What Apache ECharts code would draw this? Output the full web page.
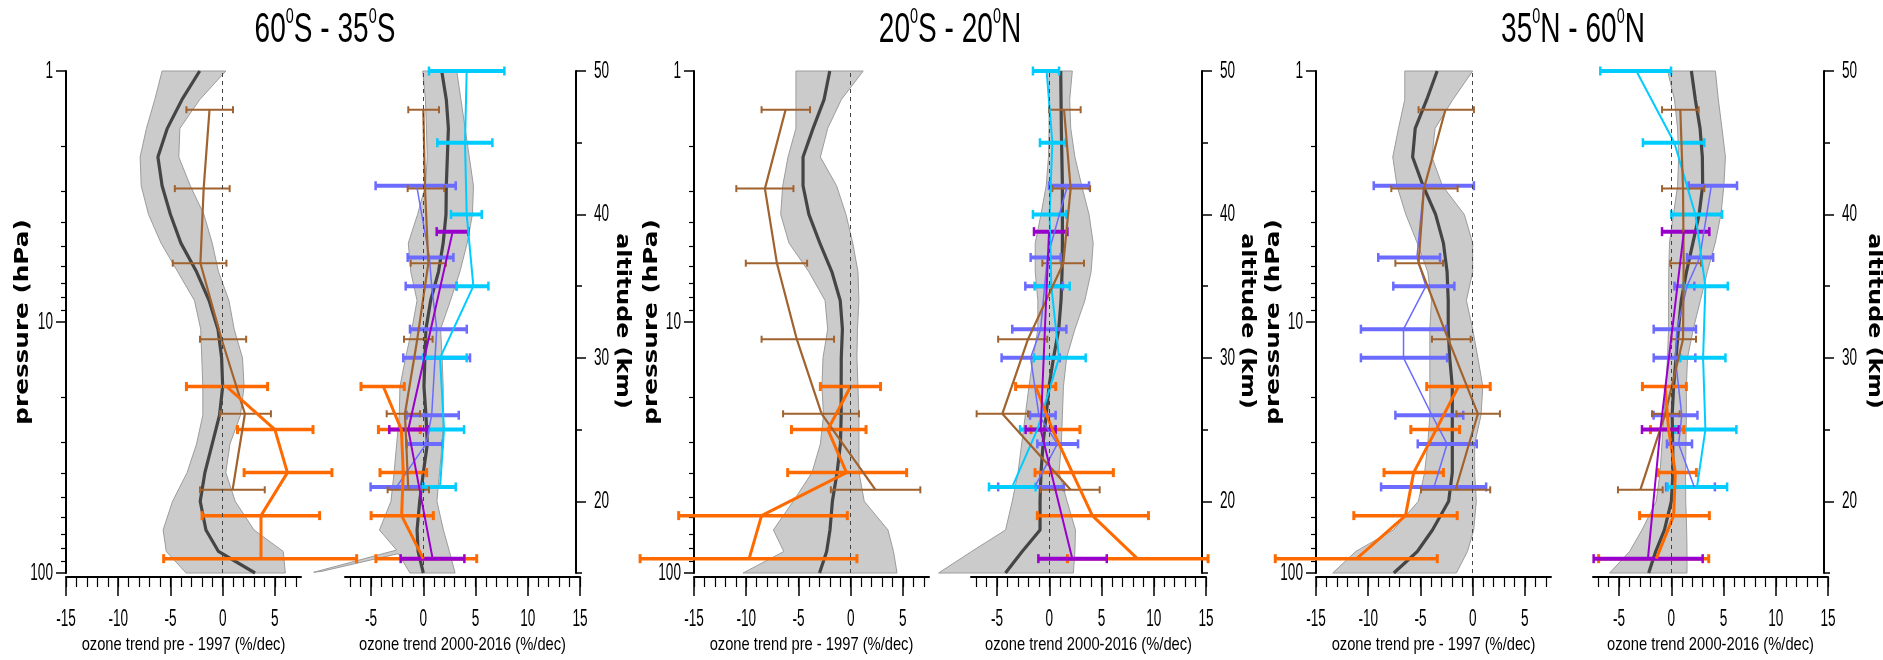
<!DOCTYPE html>
<html><head><meta charset="utf-8">
<script src="https://cdn.jsdelivr.net/npm/echarts@6/dist/echarts.min.js"></script>
<style>html,body{margin:0;padding:0;background:#fff}#c{width:1883px;height:660px}</style>
</head><body><div id="c"></div>
<script>
// ---------------- DATA ----------------
// altitude levels (km) for the model range band / mean
const bandAlt = [50,48,46,44,42,40,38,36,34,32,30,28,26,24,22,20,18,16.5,15];
// 60S-35S, pre-1997
const p1PreLo   = [-5.8,-6.5,-7.3,-7.9,-7.8,-7.1,-5.9,-4.3,-2.7,-2.1,-2.0,-1.9,-1.9,-2.5,-3.4,-4.8,-5.7,-5.4,-3.5];
const p1PreMean = [-2.2,-3.9,-5.3,-6.2,-5.8,-5.0,-4.0,-2.5,-1.3,-0.45,-0.1,0.0,-0.3,-1.0,-1.7,-2.15,-1.6,-0.4,3.1];
const p1PreHi   = [0.3,-2.2,-4.1,-4.2,-3.1,-1.8,-1.0,-0.4,0.6,1.1,1.9,2.05,1.7,0.7,0.3,1.2,3.0,5.8,6.0];
// 60S-35S, 2000-2016 (low edge given as [trend, altitude] vertices: it has a thin spike at the bottom)
const p1PostLoEdge = [[-0.06,50],[0.2,48],[0.3,46],[0.38,44],[0.2,42],[-0.55,40],[-1.44,38],[-1.2,36],[-0.6,34],[-1.1,32],[-1.7,30],[-2.24,28],[-2.3,26],[-2.55,24],[-2.8,22],[-3.1,20],[-4.2,18],[-2.56,16.6],[-10.5,15.05],[-9.7,15.12],[-2.4,16.35],[-1.28,15]];
const p1PostMean = [1.76,2.2,2.4,2.3,2.2,2.17,1.9,1.45,0.7,0.25,0.15,0.06,0.25,0.38,0.0,-0.35,-0.6,-0.5,0.0];
const p1PostHi   = [3.2,3.6,4.0,4.4,4.8,4.7,4.2,3.5,2.6,1.65,1.8,1.9,1.92,1.8,1.55,1.3,1.92,2.5,3.04];
// 20S-20N, pre-1997
const p2PreLo   = [-5.24,-5.24,-5.24,-6.0,-6.5,-6.7,-5.9,-4.0,-2.45,-2.2,-2.65,-2.75,-2.6,-2.9,-3.7,-5.5,-7.4,-6.4,-10.3];
const p2PreMean = [-2.0,-2.55,-3.6,-4.56,-4.56,-4.0,-2.95,-1.8,-1.0,-0.79,-0.9,-0.91,-0.91,-0.98,-1.3,-1.75,-1.98,-2.3,-2.98];
const p2PreHi   = [1.2,-0.9,-2.2,-2.9,-1.35,-0.45,0.2,0.7,0.79,0.65,0.6,0.7,0.79,0.79,0.8,1.3,3.57,4.1,4.44];
// 20S-20N, 2000-2016
const p2PostLo   = [-0.03,-0.03,-0.03,-0.08,-0.3,-0.8,-1.35,-1.35,-1.1,-1.1,-1.55,-1.95,-2.3,-2.65,-3.0,-3.55,-4.19,-7.45,-10.6];
const p2PostMean = [1.09,1.12,1.15,1.2,1.25,1.25,1.25,1.22,1.12,0.9,0.4,-0.03,-0.3,-0.6,-0.8,-0.89,-0.89,-2.6,-4.2];
const p2PostHi   = [2.2,1.95,2.05,2.45,3.1,3.8,4.2,4.0,3.4,2.45,1.65,1.35,1.25,1.15,0.93,1.7,2.5,2.45,2.3];
// 35N-60N, pre-1997
const p3PreLo   = [-6.5,-6.5,-7.1,-7.65,-7.25,-6.4,-5.3,-4.3,-3.95,-4.1,-4.1,-4.1,-4.1,-4.3,-4.6,-5.2,-7.6,-11.2,-13.4];
const p3PreMean = [-3.4,-4.4,-5.5,-5.75,-4.75,-3.55,-2.8,-2.45,-2.34,-2.34,-2.2,-1.95,-1.95,-1.95,-1.95,-2.3,-3.85,-5.3,-7.55];
const p3PreHi   = [0.0,-1.9,-3.6,-3.9,-2.9,-0.8,0.0,0.0,-0.6,0.0,0.5,0.97,0.8,0.19,0.19,0.35,0.1,-0.5,-1.56];
// 35N-60N, 2000-2016
const p3PostLo   = [-0.35,0.3,0.6,0.7,0.6,0.2,-0.18,-0.25,-0.26,-0.26,-0.37,-0.53,-0.7,-0.9,-1.08,-1.45,-2.81,-4.0,-5.91];
const p3PostMean = [1.92,2.3,2.75,2.97,3.0,2.66,2.06,1.45,0.95,0.68,0.45,0.22,0.08,0.13,0.16,0.0,-0.66,-1.5,-2.17];
const p3PostHi   = [4.22,4.5,4.85,5.18,5.03,4.75,4.2,3.45,2.78,2.1,1.55,1.44,1.44,1.4,1.36,1.38,1.47,1.5,1.5];

// observation levels (km)
const brownAlt  = [47.3, 41.8, 36.6, 31.3, 26.1, 20.8];
const orangeAlt = [28, 25, 22, 19, 16];
const blueAlt   = [42, 37, 35, 32, 30, 26, 24, 21];
const cyanAlt   = [50, 45, 40, 35, 30, 25, 21];
const purpleAlt = [38.8, 25, 16];

// [trend, lower, upper] (%/dec)
const p1PreBrown  = [[-1.26,-3.47,0.99],[-1.82,-4.58,0.67],[-2.13,-4.78,0.36],[-0.1,-2.17,2.25],[2.13,-0.24,4.62],[0.95,-2.17,4.03]];
const p1PreOrange = [[0.39,-3.47,4.3],[5.0,1.42,8.65],[6.2,2.05,10.46],[3.67,-1.97,9.28],[3.67,-5.65,12.83]];
const p1PostBrown  = [[0.0,-1.44,1.5],[0.16,-1.5,2.0],[0.48,-1.21,2.17],[-0.58,-1.85,0.89],[-1.76,-3.51,-0.32],[-1.44,-3.42,0.54]];
const p1PostBlue   = [[-0.64,-4.57,3.1],[0.58,-1.5,2.88],[0.8,-1.69,3.19],[1.28,-1.28,4.16],[1.12,-1.92,4.47],[0.8,-1.6,3.39],[0.26,-1.6,1.85],[-2.56,-5.05,0.0]];
const p1PostCyan   = [[4.15,0.54,7.76],[3.99,1.34,6.61],[4.15,2.65,5.59],[4.79,3.19,6.23],[1.6,0.0,4.15],[1.98,0.48,3.9],[1.6,0.0,3.1]];
const p1PostPurple = [[2.81,1.28,4.31],[-1.44,-3.26,0.42],[0.89,-2.17,3.93]];
const p1PostOrange = [[-3.83,-5.97,-1.82],[-2.1,-4.3,-0.3],[-1.92,-4.15,0.32],[-2.08,-5.0,0.96],[0.0,-4.54,5.11]];

const p2PreBrown  = [[-6.23,-8.53,-3.89],[-8.21,-10.95,-5.48],[-7.06,-10.04,-4.17],[-5.16,-8.53,-1.59],[-2.78,-6.47,0.79],[2.38,-1.9,6.67]];
const p2PreOrange = [[0.0,-2.9,2.86],[-2.18,-5.67,1.47],[-0.4,-6.03,5.36],[-8.53,-16.47,-0.32],[-9.72,-20.16,0.6]];
const p2PostBrown  = [[1.41,-0.03,3.0],[2.04,0.29,3.9],[1.34,-0.67,3.32],[-2.04,-4.9,-0.2],[-4.5,-6.96,-2.04],[2.04,-0.83,4.82]];
const p2PostBlue   = [[1.73,-0.03,3.8],[-0.19,-1.79,1.09],[-0.45,-2.3,1.3],[-0.83,-3.55,1.63],[-1.79,-4.57,1.0],[-1.0,-1.85,0.6],[0.77,-1.15,2.75],[-1.4,-4.9,1.4]];
const p2PostCyan   = [[-0.26,-1.57,0.93],[0.29,-0.9,1.57],[0.03,-1.57,1.63],[0.19,-1.41,1.95],[0.93,-1.47,3.48],[-1.15,-2.8,0.5],[-3.55,-5.78,-1.31]];
const p2PostPurple = [[-0.03,-1.47,1.73],[-0.83,-2.27,0.61],[2.2,-1.05,5.5]];
const p2PostOrange = [[-1.31,-3.23,0.61],[0.3,-1.76,2.93],[2.2,-1.37,6.13],[4.12,-1.15,9.49],[8.43,1.73,15.2]];

const p3PreBrown  = [[-2.61,-5.18,0.12],[-4.67,-7.79,-1.44],[-5.18,-7.4,-2.84],[-2.34,-3.9,-0.19],[0.5,-1.56,2.61],[-1.64,-4.95,1.68]];
const p3PreBlue   = [[-4.67,-9.47,0.12],[-5.34,-9.04,-3.12],[-4.48,-7.6,-1.75],[-6.62,-10.7,-2.53],[-6.62,-10.7,-2.45],[-3.9,-7.4,-0.9],[-2.45,-5.26,0.39],[-3.7,-8.77,1.29]];
const p3PreOrange = [[-1.36,-4.4,1.68],[-3.5,-5.92,-1.25],[-5.65,-8.49,-2.8],[-6.43,-11.38,-1.48],[-11.1,-18.9,-3.39]];
const p3PostBrown  = [[0.86,-0.89,2.62],[1.12,-0.89,3.16],[1.18,-0.1,2.84],[1.12,0.0,2.36],[-0.58,-1.85,0.8],[-2.97,-5.11,-0.83]];
const p3PostBlue   = [[3.83,1.66,6.29],[2.72,1.5,4.0],[1.5,0.3,2.2],[0.54,-1.69,2.36],[0.38,-1.69,2.3],[1.0,-1.7,2.5],[0.7,-0.42,1.98],[2.2,-0.5,4.17]];
const p3PostCyan   = [[-3.35,-6.8,-0.03],[0.29,-2.72,3.16],[2.3,0.0,4.86],[3.26,1.18,5.4],[3.04,0.86,5.18],[3.26,0.38,6.23],[2.46,-0.35,5.34]];
const p3PostPurple = [[1.2,-0.89,3.64],[-1.05,-2.81,0.7],[-2.24,-7.44,3.0]];
const p3PostOrange = [[-0.6,-2.77,1.44],[-0.26,-2.0,1.2],[0.38,-1.28,2.4],[0.22,-3.04,3.64],[-1.44,-6.96,3.58]];

// tick values / labels
const preMajorTicks  = [-15,-10,-5,0,5];
const postMajorTicks = [-5,0,5,10,15];
const pressureMajor = [1,10,100];
const pressureMinor = [2,3,4,5,6,7,8,9,20,30,40,50,60,70,80,90];
const altMajor = [20,30,40,50];
const altMinor = [15,25,35,45];
const panelTitles = ['60{s|0}S - 35{s|0}S', '20{s|0}S - 20{s|0}N', '35{s|0}N - 60{s|0}N'];
const preAxisName  = 'ozone trend pre - 1997 (%/dec)';
const postAxisName = 'ozone trend 2000-2016 (%/dec)';

// ---------------- LAYOUT / STYLE ----------------
const FS = "'Liberation Sans', Arial, sans-serif";
const TOP = 71, H = 502, W = 235;
const gridLefts = [66, 345, 694, 971, 1316, 1593];
const panelCenters = [325, 950, 1573];
const presLabelX = [23, 652, 1274];
const altLabelX = [622, 1247, 1874];
const LBL = {size: 17, sx: 0.8, sy: 1.45};
const NAME = {size: 16, sx: 0.92, sy: 1.2};
const STY = {
  blue:   {color:'#6B6BFF', alts: blueAlt,   lw:1.5, bw:4,   cw:2.5, cap:4.5},
  cyan:   {color:'#00CCFF', alts: cyanAlt,   lw:2,   bw:4,   cw:2.5, cap:4.5},
  brown:  {color:'#A0632F', alts: brownAlt,  lw:2.2, bw:2,   cw:2,   cap:3.5},
  orange: {color:'#FF6A00', alts: orangeAlt, lw:3,   bw:3.5, cw:3,   cap:4.5},
  purple: {color:'#9900CC', alts: purpleAlt, lw:2,   bw:4,   cw:2.5, cap:4.5}
};
const ORDER = ['blue','cyan','brown','orange','purple'];

function edge(xs) { return xs.map((x, i) => [x, bandAlt[i]]); }
const subplots = [
  {pre:true,  lo:edge(p1PreLo),  mean:p1PreMean,  hi:p1PreHi,  sets:{brown:p1PreBrown, orange:p1PreOrange}},
  {pre:false, lo:p1PostLoEdge,   mean:p1PostMean, hi:p1PostHi, sets:{blue:p1PostBlue, cyan:p1PostCyan, brown:p1PostBrown, orange:p1PostOrange, purple:p1PostPurple}},
  {pre:true,  lo:edge(p2PreLo),  mean:p2PreMean,  hi:p2PreHi,  sets:{brown:p2PreBrown, orange:p2PreOrange}},
  {pre:false, lo:edge(p2PostLo), mean:p2PostMean, hi:p2PostHi, sets:{blue:p2PostBlue, cyan:p2PostCyan, brown:p2PostBrown, orange:p2PostOrange, purple:p2PostPurple}},
  {pre:true,  lo:edge(p3PreLo),  mean:p3PreMean,  hi:p3PreHi,  sets:{blue:p3PreBlue, brown:p3PreBrown, orange:p3PreOrange}},
  {pre:false, lo:edge(p3PostLo), mean:p3PostMean, hi:p3PostHi, sets:{blue:p3PostBlue, cyan:p3PostCyan, brown:p3PostBrown, orange:p3PostOrange, purple:p3PostPurple}}
];

function range(a, b) { const r = []; for (let v = a; v <= b; v++) r.push(v); return r; }

const grids = [], xAxes = [], yAxes = [], series = [];
const black = '#000';

// text placed through the axis scale (tall, narrow lettering like the original)
function textSeries(xi, yi, pts, texts, dx, dy, align, st) {
  return {type:'custom', xAxisIndex: xi, yAxisIndex: yi, clip:false, silent:true, z:5,
    data: pts,
    renderItem: (params, api) => {
      const c = api.coord([api.value(0), api.value(1)]);
      return {type:'text', x: c[0] + dx, y: c[1] + dy, scaleX: st.sx, scaleY: st.sy,
        style:{text: texts[params.dataIndex], fill: black, fontFamily: FS, fontSize: st.size,
          align: align, verticalAlign:'middle'}};
    }};
}

subplots.forEach((sp, gi) => {
  grids.push({left: gridLefts[gi], top: TOP, width: W, height: H});
  const xmin = sp.pre ? -15 : -7.5, xmax = sp.pre ? 7.5 : 15;
  const majors = sp.pre ? preMajorTicks : postMajorTicks;
  const minors = sp.pre ? range(-15, 7) : range(-7, 15);
  const xi = xAxes.length;
  xAxes.push({gridIndex: gi, type:'value', min:xmin, max:xmax, position:'bottom', offset:4,
    axisLine:{show:true, onZero:false, lineStyle:{color:black, width:2}},
    axisTick:{show:true, customValues: majors, length:19, lineStyle:{color:black, width:1.5}},
    axisLabel:{show:false}, splitLine:{show:false}});
  xAxes.push({gridIndex: gi, type:'value', min:xmin, max:xmax, position:'bottom', offset:4,
    axisLine:{show:false, onZero:false},
    axisTick:{show:true, customValues: minors, length:10, lineStyle:{color:black, width:1.2}},
    axisLabel:{show:false}, splitLine:{show:false}});
  let dataY;
  if (sp.pre) {
    const pi = yAxes.length;
    yAxes.push({gridIndex: gi, type:'log', logBase:10, min:1, max:100, inverse:true, position:'left',
      axisLine:{show:true, onZero:false, lineStyle:{color:black, width:2}},
      axisTick:{show:true, customValues: pressureMajor, length:10, lineStyle:{color:black, width:1.5}},
      axisLabel:{show:false}, splitLine:{show:false}});
    yAxes.push({gridIndex: gi, type:'log', logBase:10, min:1, max:100, inverse:true, position:'left',
      axisLine:{show:false, onZero:false},
      axisTick:{show:true, customValues: pressureMinor, length:5, lineStyle:{color:black, width:1.2}},
      axisLabel:{show:false}, splitLine:{show:false}});
    dataY = yAxes.length;
    yAxes.push({gridIndex: gi, type:'value', min:15, max:50, show:false, splitLine:{show:false},
      axisLine:{onZero:false}});
    series.push(textSeries(xi, pi, pressureMajor.map(p => [xmin, p]), pressureMajor.map(String), -13, 0, 'right', LBL));
  } else {
    dataY = yAxes.length;
    yAxes.push({gridIndex: gi, type:'value', min:15, max:50, position:'right', offset:-4,
      axisLine:{show:true, onZero:false, lineStyle:{color:black, width:2}},
      axisTick:{show:true, customValues: altMajor, length:10, lineStyle:{color:black, width:1.5}},
      axisLabel:{show:false}, splitLine:{show:false}});
    yAxes.push({gridIndex: gi, type:'value', min:15, max:50, position:'right', offset:-4,
      axisLine:{show:false, onZero:false},
      axisTick:{show:true, customValues: altMinor, length:6, lineStyle:{color:black, width:1.5}},
      axisLabel:{show:false}, splitLine:{show:false}});
    series.push(textSeries(xi, dataY, altMajor.map(a => [xmax, a]), altMajor.map(String), 14, 0, 'left', LBL));
  }
  series.push(textSeries(xi, dataY, majors.map(v => [v, 15]), majors.map(String), 0, 46, 'center', LBL));
  series.push(textSeries(xi, dataY, [[(xmin + xmax) / 2, 15]], [sp.pre ? preAxisName : postAxisName], 0, 72, 'center', NAME));
  // model range band
  series.push({type:'custom', xAxisIndex: xi, yAxisIndex: dataY, clip:false, silent:true, z:1,
    data: bandAlt.map((a, i) => [sp.mean[i], a]),
    renderItem: (params, api) => {
      if (params.dataIndex !== 0) return null;
      const pts = sp.lo.map(p => api.coord(p));
      for (let i = bandAlt.length - 1; i >= 0; i--) pts.push(api.coord([sp.hi[i], bandAlt[i]]));
      return {type:'polygon', shape:{points: pts}, style:{fill:'#CBCBCB', stroke:'#9C9C9C', lineWidth:1}};
    }});
  // mean line + zero line
  series.push({type:'line', xAxisIndex: xi, yAxisIndex: dataY, clip:false, silent:true, z:2,
    data: bandAlt.map((a, i) => [sp.mean[i], a]),
    symbol:'none', lineStyle:{color:'#454545', width:3.2},
    markLine:{silent:true, symbol:['none','none'], label:{show:false},
      lineStyle:{color:'#444', type:[4,4], width:1}, data:[{xAxis:0}]}});
  ORDER.forEach(key => {
    const d = sp.sets[key];
    if (!d) return;
    const st = STY[key];
    series.push({type:'line', xAxisIndex: xi, yAxisIndex: dataY, clip:false, silent:true, z:3,
      data: d.map((r, i) => [r[0], st.alts[i]]),
      symbol:'none', lineStyle:{color: st.color, width: st.lw}});
    series.push({type:'custom', xAxisIndex: xi, yAxisIndex: dataY, clip:false, silent:true, z:3,
      data: d.map((r, i) => [r[0], st.alts[i], r[1], r[2]]),
      encode:{x:0, y:1},
      renderItem: (params, api) => {
        const y = api.value(1);
        const a = api.coord([api.value(2), y]);
        const b = api.coord([api.value(3), y]);
        const h = st.cap;
        return {type:'group', children:[
          {type:'line', shape:{x1:a[0], y1:a[1], x2:b[0], y2:b[1]}, style:{stroke: st.color, lineWidth: st.bw}},
          {type:'line', shape:{x1:a[0], y1:a[1]-h, x2:a[0], y2:a[1]+h}, style:{stroke: st.color, lineWidth: st.cw}},
          {type:'line', shape:{x1:b[0], y1:b[1]-h, x2:b[0], y2:b[1]+h}, style:{stroke: st.color, lineWidth: st.cw}}
        ]};
      }});
  });
});

const graphic = [];
panelTitles.forEach((t, i) => {
  graphic.push({type:'text', x: panelCenters[i], y: 30, scaleX: 0.85, scaleY: 1.27, silent:true,
    style:{text: t, fill:'#000', fontFamily: FS, fontSize: 33, align:'center', verticalAlign:'middle',
      rich:{s:{fontFamily: FS, fontSize: 17, verticalAlign:'top', lineHeight: 38, fill:'#000'}}}});
  graphic.push({type:'text', x: presLabelX[i], y: 322, rotation: Math.PI/2, scaleX: 1.3, silent:true,
    style:{text:'pressure (hPa)', fill:'#000', fontFamily:'DejaVu Sans', fontWeight:'bold', fontSize:19,
      align:'center', verticalAlign:'middle'}});
  graphic.push({type:'text', x: altLabelX[i], y: 321, rotation: -Math.PI/2, scaleX: 1.25, silent:true,
    style:{text:'altitude (km)', fill:'#000', fontFamily:'DejaVu Sans', fontWeight:'bold', fontSize:19,
      align:'center', verticalAlign:'middle'}});
});

const chart = echarts.init(document.getElementById('c'), null, {renderer:'canvas'});
chart.setOption({
  animation:false,
  backgroundColor:'#fff',
  grid: grids, xAxis: xAxes, yAxis: yAxes, series: series, graphic: graphic
});
</script></body></html>
